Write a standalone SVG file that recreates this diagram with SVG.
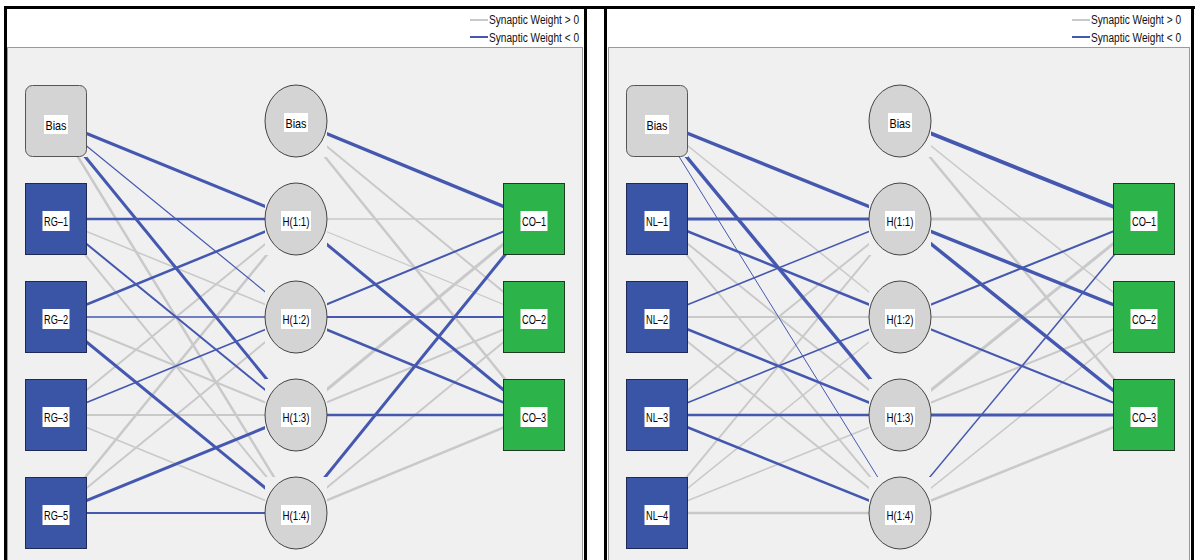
<svg xmlns="http://www.w3.org/2000/svg" width="1195" height="560" viewBox="0 0 1195 560">
<style>
.frame{fill:none;stroke:#000;stroke-width:3}
.content{fill:#f0f0f0;stroke:#9a9a9a;stroke-width:1}
.leg{font-family:"Liberation Sans",Arial,sans-serif;font-size:12px;fill:#111}
.pos{stroke:#c9c9c9;fill:none}
.neg{stroke:#4558b0;fill:none}
.inp{fill:#3a54a6;stroke:#1e2a55;stroke-width:1}
.bin{fill:#d4d4d4;stroke:#555;stroke-width:1}
.hid{fill:#d4d4d4;stroke:#444;stroke-width:1}
.out{fill:#2cb349;stroke:#1f3a22;stroke-width:1}
.lb{fill:#fff}
.lt{font-family:"Liberation Sans",Arial,sans-serif;font-size:13px;fill:#000;text-anchor:middle}
</style>
<defs>
<mask id="nodemask" maskUnits="userSpaceOnUse" x="0" y="0" width="1195" height="560">
<rect x="0" y="0" width="1195" height="560" fill="#fff"/>
<g fill="#000">
<rect x="25" y="85" width="62" height="72"/><rect x="25" y="183" width="62" height="72"/><rect x="25" y="281" width="62" height="72"/><rect x="25" y="379" width="62" height="72"/><rect x="25" y="477" width="62" height="72"/>
<rect x="265" y="85" width="62" height="72"/><rect x="265" y="183" width="62" height="72"/><rect x="265" y="281" width="62" height="72"/><rect x="265" y="379" width="62" height="72"/><rect x="265" y="477" width="62" height="72"/>
<rect x="503" y="183" width="62" height="72"/><rect x="503" y="281" width="62" height="72"/><rect x="503" y="379" width="62" height="72"/>
<rect x="626" y="85" width="62" height="72"/><rect x="626" y="183" width="62" height="72"/><rect x="626" y="281" width="62" height="72"/><rect x="626" y="379" width="62" height="72"/><rect x="626" y="477" width="62" height="72"/>
<rect x="869" y="85" width="62" height="72"/><rect x="869" y="183" width="62" height="72"/><rect x="869" y="281" width="62" height="72"/><rect x="869" y="379" width="62" height="72"/><rect x="869" y="477" width="62" height="72"/>
<rect x="1113" y="183" width="62" height="72"/><rect x="1113" y="281" width="62" height="72"/><rect x="1113" y="379" width="62" height="72"/>
</g>
</mask>
</defs>
<rect x="0" y="0" width="1195" height="560" fill="#fff"/>
<!-- panels -->
<g id="panel-left">
<rect class="content" x="7.5" y="47.5" width="575" height="516"/>
<line class="frame" x1="5.5" y1="7" x2="5.5" y2="560"/>
<line class="frame" x1="585.5" y1="7" x2="585.5" y2="560"/>
</g>
<g id="panel-right">
<rect class="content" x="608.5" y="47.5" width="581" height="516"/>
<line class="frame" x1="605.5" y1="7" x2="605.5" y2="560"/>
<line class="frame" x1="1192.5" y1="7" x2="1192.5" y2="560"/>
</g>
<line class="frame" x1="4" y1="7.5" x2="1195" y2="7.5"/>
<!-- legends -->
<g id="legend-left">
<line x1="470" y1="20" x2="488" y2="20" stroke="#c9c9c9" stroke-width="2"/>
<line x1="470" y1="37" x2="488" y2="37" stroke="#4558b0" stroke-width="2"/>
<text class="leg" x="489" y="24" textLength="90" lengthAdjust="spacingAndGlyphs">Synaptic Weight &gt; 0</text>
<text class="leg" x="489" y="41.5" textLength="90" lengthAdjust="spacingAndGlyphs">Synaptic Weight &lt; 0</text>
</g>
<g id="legend-right">
<line x1="1072" y1="20" x2="1090" y2="20" stroke="#c9c9c9" stroke-width="2"/>
<line x1="1072" y1="37" x2="1090" y2="37" stroke="#4558b0" stroke-width="2"/>
<text class="leg" x="1091" y="24" textLength="90" lengthAdjust="spacingAndGlyphs">Synaptic Weight &gt; 0</text>
<text class="leg" x="1091" y="41.5" textLength="90" lengthAdjust="spacingAndGlyphs">Synaptic Weight &lt; 0</text>
</g>
<!-- connectors -->
<g id="connectors" mask="url(#nodemask)">
<!-- left: positive weights -->
<line class="pos" stroke-width="2.5" x1="56" y1="121" x2="296" y2="513"/>
<line class="pos" stroke-width="1.5" x1="56" y1="219" x2="296" y2="317"/>
<line class="pos" stroke-width="2" x1="56" y1="219" x2="296" y2="513"/>
<line class="pos" stroke-width="2" x1="56" y1="317" x2="296" y2="415"/>
<line class="pos" stroke-width="2" x1="56" y1="415" x2="296" y2="219"/>
<line class="pos" stroke-width="2" x1="56" y1="415" x2="296" y2="415"/>
<line class="pos" stroke-width="1.5" x1="56" y1="415" x2="296" y2="513"/>
<line class="pos" stroke-width="2.5" x1="56" y1="513" x2="296" y2="219"/>
<line class="pos" stroke-width="2" x1="56" y1="513" x2="296" y2="317"/>
<line class="pos" stroke-width="2" x1="296" y1="121" x2="534" y2="317"/>
<line class="pos" stroke-width="2.5" x1="296" y1="121" x2="534" y2="415"/>
<line class="pos" stroke-width="1.5" x1="296" y1="219" x2="534" y2="219"/>
<line class="pos" stroke-width="1.2" x1="296" y1="219" x2="534" y2="317"/>
<line class="pos" stroke-width="3" x1="296" y1="415" x2="534" y2="219"/>
<line class="pos" stroke-width="2" x1="296" y1="415" x2="534" y2="317"/>
<line class="pos" stroke-width="2" x1="296" y1="513" x2="534" y2="317"/>
<line class="pos" stroke-width="2.5" x1="296" y1="513" x2="534" y2="415"/>
<!-- left: negative weights -->
<line class="neg" stroke-width="3" x1="56" y1="121" x2="296" y2="219"/>
<line class="neg" stroke-width="1.2" x1="56" y1="121" x2="296" y2="317"/>
<line class="neg" stroke-width="3" x1="56" y1="121" x2="296" y2="415"/>
<line class="neg" stroke-width="2.5" x1="56" y1="219" x2="296" y2="219"/>
<line class="neg" stroke-width="2" x1="56" y1="219" x2="296" y2="415"/>
<line class="neg" stroke-width="2.5" x1="56" y1="317" x2="296" y2="219"/>
<line class="neg" stroke-width="1.5" x1="56" y1="317" x2="296" y2="317"/>
<line class="neg" stroke-width="3" x1="56" y1="317" x2="296" y2="513"/>
<line class="neg" stroke-width="1.5" x1="56" y1="415" x2="296" y2="317"/>
<line class="neg" stroke-width="3" x1="56" y1="513" x2="296" y2="415"/>
<line class="neg" stroke-width="2" x1="56" y1="513" x2="296" y2="513"/>
<line class="neg" stroke-width="3.5" x1="296" y1="121" x2="534" y2="219"/>
<line class="neg" stroke-width="3" x1="296" y1="219" x2="534" y2="415"/>
<line class="neg" stroke-width="2" x1="296" y1="317" x2="534" y2="219"/>
<line class="neg" stroke-width="2" x1="296" y1="317" x2="534" y2="317"/>
<line class="neg" stroke-width="2.5" x1="296" y1="317" x2="534" y2="415"/>
<line class="neg" stroke-width="2.5" x1="296" y1="415" x2="534" y2="415"/>
<line class="neg" stroke-width="3" x1="296" y1="513" x2="534" y2="219"/>
<!-- right: positive weights -->
<line class="pos" stroke-width="1.5" x1="657" y1="121" x2="900" y2="317"/>
<line class="pos" stroke-width="2" x1="657" y1="219" x2="900" y2="415"/>
<line class="pos" stroke-width="2" x1="657" y1="219" x2="900" y2="513"/>
<line class="pos" stroke-width="2" x1="657" y1="317" x2="900" y2="317"/>
<line class="pos" stroke-width="2" x1="657" y1="317" x2="900" y2="513"/>
<line class="pos" stroke-width="2" x1="657" y1="415" x2="900" y2="219"/>
<line class="pos" stroke-width="2" x1="657" y1="513" x2="900" y2="219"/>
<line class="pos" stroke-width="1.5" x1="657" y1="513" x2="900" y2="317"/>
<line class="pos" stroke-width="1.5" x1="657" y1="513" x2="900" y2="415"/>
<line class="pos" stroke-width="2.5" x1="657" y1="513" x2="900" y2="513"/>
<line class="pos" stroke-width="1.5" x1="900" y1="121" x2="1144" y2="317"/>
<line class="pos" stroke-width="2.5" x1="900" y1="121" x2="1144" y2="415"/>
<line class="pos" stroke-width="3" x1="900" y1="219" x2="1144" y2="219"/>
<line class="pos" stroke-width="2" x1="900" y1="317" x2="1144" y2="317"/>
<line class="pos" stroke-width="3" x1="900" y1="415" x2="1144" y2="219"/>
<line class="pos" stroke-width="2" x1="900" y1="415" x2="1144" y2="317"/>
<line class="pos" stroke-width="1.5" x1="900" y1="513" x2="1144" y2="317"/>
<line class="pos" stroke-width="2.5" x1="900" y1="513" x2="1144" y2="415"/>
<!-- right: negative weights -->
<line class="neg" stroke-width="3.5" x1="657" y1="121" x2="900" y2="219"/>
<line class="neg" stroke-width="3.5" x1="657" y1="121" x2="900" y2="415"/>
<line class="neg" stroke-width="1" x1="657" y1="121" x2="900" y2="513"/>
<line class="neg" stroke-width="3" x1="657" y1="219" x2="900" y2="219"/>
<line class="neg" stroke-width="2.5" x1="657" y1="219" x2="900" y2="317"/>
<line class="neg" stroke-width="1.5" x1="657" y1="317" x2="900" y2="219"/>
<line class="neg" stroke-width="2.5" x1="657" y1="317" x2="900" y2="415"/>
<line class="neg" stroke-width="1.5" x1="657" y1="415" x2="900" y2="317"/>
<line class="neg" stroke-width="2.5" x1="657" y1="415" x2="900" y2="415"/>
<line class="neg" stroke-width="2.5" x1="657" y1="415" x2="900" y2="513"/>
<line class="neg" stroke-width="4" x1="900" y1="121" x2="1144" y2="219"/>
<line class="neg" stroke-width="3.5" x1="900" y1="219" x2="1144" y2="317"/>
<line class="neg" stroke-width="3.5" x1="900" y1="219" x2="1144" y2="415"/>
<line class="neg" stroke-width="2" x1="900" y1="317" x2="1144" y2="219"/>
<line class="neg" stroke-width="2" x1="900" y1="317" x2="1144" y2="415"/>
<line class="neg" stroke-width="3" x1="900" y1="415" x2="1144" y2="415"/>
<line class="neg" stroke-width="1.5" x1="900" y1="513" x2="1144" y2="219"/>
</g>
<!-- left nodes -->
<g id="L-in-bias"><rect class="bin" x="25.5" y="85.5" width="61" height="71" rx="7"/><rect class="lb" x="44" y="115" width="24" height="19"/><text class="lt" x="56" y="129.5" textLength="21" lengthAdjust="spacingAndGlyphs">Bias</text></g>
<g id="L-RG-1"><rect class="inp" x="25.5" y="183.5" width="61" height="71"/><rect class="lb" x="42.5" y="211" width="27" height="20"/><text class="lt" x="56" y="225.8" textLength="24" lengthAdjust="spacingAndGlyphs">RG–1</text></g>
<g id="L-RG-2"><rect class="inp" x="25.5" y="281.5" width="61" height="71"/><rect class="lb" x="42.5" y="309" width="27" height="20"/><text class="lt" x="56" y="323.8" textLength="24" lengthAdjust="spacingAndGlyphs">RG–2</text></g>
<g id="L-RG-3"><rect class="inp" x="25.5" y="379.5" width="61" height="71"/><rect class="lb" x="42.5" y="407" width="27" height="20"/><text class="lt" x="56" y="421.8" textLength="24" lengthAdjust="spacingAndGlyphs">RG–3</text></g>
<g id="L-RG-5"><rect class="inp" x="25.5" y="477.5" width="61" height="71"/><rect class="lb" x="42.5" y="505" width="27" height="20"/><text class="lt" x="56" y="519.8" textLength="24" lengthAdjust="spacingAndGlyphs">RG–5</text></g>
<g id="L-h-bias"><ellipse class="hid" cx="296" cy="121" rx="31" ry="36"/><rect class="lb" x="284" y="113" width="24" height="19"/><text class="lt" x="296" y="127.5" textLength="21" lengthAdjust="spacingAndGlyphs">Bias</text></g>
<g id="L-H1"><ellipse class="hid" cx="296" cy="219" rx="31" ry="36"/><rect class="lb" x="281" y="211" width="30" height="20"/><text class="lt" x="296" y="225.8" textLength="27" lengthAdjust="spacingAndGlyphs">H(1:1)</text></g>
<g id="L-H2"><ellipse class="hid" cx="296" cy="317" rx="31" ry="36"/><rect class="lb" x="281" y="309" width="30" height="20"/><text class="lt" x="296" y="323.8" textLength="27" lengthAdjust="spacingAndGlyphs">H(1:2)</text></g>
<g id="L-H3"><ellipse class="hid" cx="296" cy="415" rx="31" ry="36"/><rect class="lb" x="281" y="407" width="30" height="20"/><text class="lt" x="296" y="421.8" textLength="27" lengthAdjust="spacingAndGlyphs">H(1:3)</text></g>
<g id="L-H4"><ellipse class="hid" cx="296" cy="513" rx="31" ry="36"/><rect class="lb" x="281" y="505" width="30" height="20"/><text class="lt" x="296" y="519.8" textLength="27" lengthAdjust="spacingAndGlyphs">H(1:4)</text></g>
<g id="L-CO-1"><rect class="out" x="503.5" y="183.5" width="61" height="71"/><rect class="lb" x="520.5" y="211" width="27" height="20"/><text class="lt" x="534" y="225.8" textLength="24" lengthAdjust="spacingAndGlyphs">CO–1</text></g>
<g id="L-CO-2"><rect class="out" x="503.5" y="281.5" width="61" height="71"/><rect class="lb" x="520.5" y="309" width="27" height="20"/><text class="lt" x="534" y="323.8" textLength="24" lengthAdjust="spacingAndGlyphs">CO–2</text></g>
<g id="L-CO-3"><rect class="out" x="503.5" y="379.5" width="61" height="71"/><rect class="lb" x="520.5" y="407" width="27" height="20"/><text class="lt" x="534" y="421.8" textLength="24" lengthAdjust="spacingAndGlyphs">CO–3</text></g>
<!-- right nodes -->
<g id="R-in-bias"><rect class="bin" x="626.5" y="85.5" width="61" height="71" rx="7"/><rect class="lb" x="645" y="115" width="24" height="19"/><text class="lt" x="657" y="129.5" textLength="21" lengthAdjust="spacingAndGlyphs">Bias</text></g>
<g id="R-NL-1"><rect class="inp" x="626.5" y="183.5" width="61" height="71"/><rect class="lb" x="644.5" y="211" width="25" height="20"/><text class="lt" x="657" y="225.8" textLength="22" lengthAdjust="spacingAndGlyphs">NL–1</text></g>
<g id="R-NL-2"><rect class="inp" x="626.5" y="281.5" width="61" height="71"/><rect class="lb" x="644.5" y="309" width="25" height="20"/><text class="lt" x="657" y="323.8" textLength="22" lengthAdjust="spacingAndGlyphs">NL–2</text></g>
<g id="R-NL-3"><rect class="inp" x="626.5" y="379.5" width="61" height="71"/><rect class="lb" x="644.5" y="407" width="25" height="20"/><text class="lt" x="657" y="421.8" textLength="22" lengthAdjust="spacingAndGlyphs">NL–3</text></g>
<g id="R-NL-4"><rect class="inp" x="626.5" y="477.5" width="61" height="71"/><rect class="lb" x="644.5" y="505" width="25" height="20"/><text class="lt" x="657" y="519.8" textLength="22" lengthAdjust="spacingAndGlyphs">NL–4</text></g>
<g id="R-h-bias"><ellipse class="hid" cx="900" cy="121" rx="31" ry="36"/><rect class="lb" x="888" y="113" width="24" height="19"/><text class="lt" x="900" y="127.5" textLength="21" lengthAdjust="spacingAndGlyphs">Bias</text></g>
<g id="R-H1"><ellipse class="hid" cx="900" cy="219" rx="31" ry="36"/><rect class="lb" x="885" y="211" width="30" height="20"/><text class="lt" x="900" y="225.8" textLength="27" lengthAdjust="spacingAndGlyphs">H(1:1)</text></g>
<g id="R-H2"><ellipse class="hid" cx="900" cy="317" rx="31" ry="36"/><rect class="lb" x="885" y="309" width="30" height="20"/><text class="lt" x="900" y="323.8" textLength="27" lengthAdjust="spacingAndGlyphs">H(1:2)</text></g>
<g id="R-H3"><ellipse class="hid" cx="900" cy="415" rx="31" ry="36"/><rect class="lb" x="885" y="407" width="30" height="20"/><text class="lt" x="900" y="421.8" textLength="27" lengthAdjust="spacingAndGlyphs">H(1:3)</text></g>
<g id="R-H4"><ellipse class="hid" cx="900" cy="513" rx="31" ry="36"/><rect class="lb" x="885" y="505" width="30" height="20"/><text class="lt" x="900" y="519.8" textLength="27" lengthAdjust="spacingAndGlyphs">H(1:4)</text></g>
<g id="R-CO-1"><rect class="out" x="1113.5" y="183.5" width="61" height="71"/><rect class="lb" x="1130.5" y="211" width="27" height="20"/><text class="lt" x="1144" y="225.8" textLength="24" lengthAdjust="spacingAndGlyphs">CO–1</text></g>
<g id="R-CO-2"><rect class="out" x="1113.5" y="281.5" width="61" height="71"/><rect class="lb" x="1130.5" y="309" width="27" height="20"/><text class="lt" x="1144" y="323.8" textLength="24" lengthAdjust="spacingAndGlyphs">CO–2</text></g>
<g id="R-CO-3"><rect class="out" x="1113.5" y="379.5" width="61" height="71"/><rect class="lb" x="1130.5" y="407" width="27" height="20"/><text class="lt" x="1144" y="421.8" textLength="24" lengthAdjust="spacingAndGlyphs">CO–3</text></g>
</svg>
